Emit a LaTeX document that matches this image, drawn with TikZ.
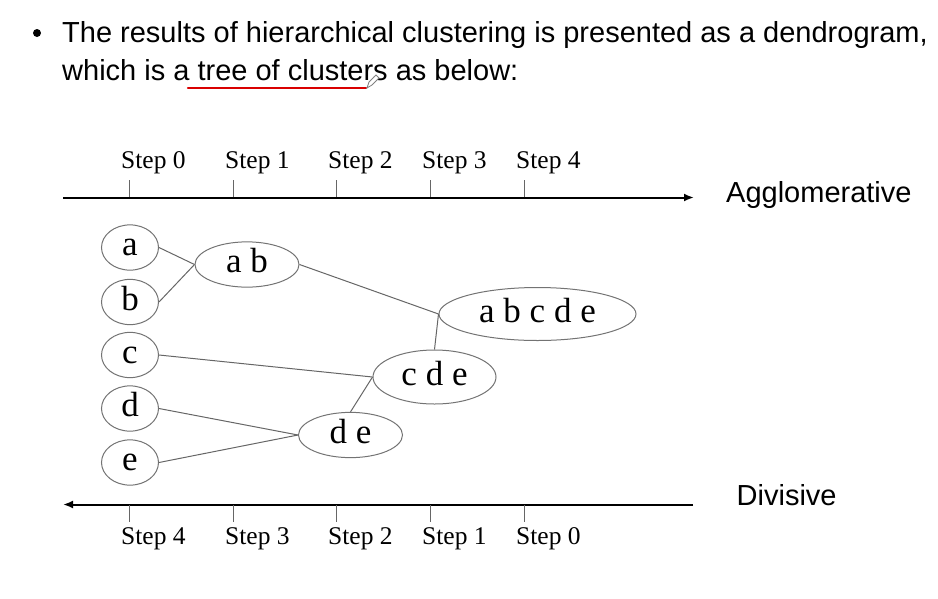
\documentclass[tikz,border=0pt]{standalone}
\usepackage{fontspec}
\setmainfont{Liberation Serif}
\newfontfamily\slidefont{Liberation Sans}
\usetikzlibrary{shapes.geometric, arrows.meta}

\begin{document}
\begin{tikzpicture}[
    x = 1pt, y = -1pt,
    leaf/.style = {
      ellipse,
      draw = gray!90!black, line width = 1pt,
      minimum width = 57pt, minimum height = 45pt,
      inner sep = 0,
      text height = 24pt, text depth = 8pt,
      font = \fontsize{35}{35}\selectfont,
    },
    cluster/.style = {
      leaf,
      minimum width = #1,
    },
    link/.style = {
      draw = gray!80!black,
      line width = 1pt,
    },
    axis/.style = {
      draw = black,
      line width = 2pt,
      -{Latex[length = 10pt, width = 8pt]},
    },
    steptick/.style = {
      draw = gray!80!black,
      line width = 1pt,
    },
    steplabel/.style = {
      anchor = base west,
      inner sep = 0,
      font = \fontsize{25.5}{25.5}\selectfont,
    },
    slidetext/.style = {
      anchor = base west,
      inner sep = 0,
      font = \slidefont\fontsize{29}{29}\selectfont,
    },
  ]
  \useasboundingbox (0,0) rectangle (938,598);

  % slide text
  \node[circle, fill = black, inner sep = 0, minimum size = 8pt] (bullet) at (37,33) {};
  \node[slidetext] (lineA) at (62,42) {The results of hierarchical clustering is presented as a dendrogram,};
  \node[slidetext] (lineB) at (62,80) {which is a tree of clusters as below:};
  \coordinate (markA) at (188,88);
  \coordinate (markB) at (366,88);
  \draw[red!85!black, line width = 2.5pt, line cap = round] (markA) -- (markB);
  \draw[gray, line width = 0.8pt, fill = white]
    (367,88) -- (369,82) -- (376,75) -- (379,78) -- (372,85) -- cycle;

  % step axes
  \coordinate (aggStart) at (63,197.5);
  \coordinate (aggEnd) at (694,197.5);
  \coordinate (divStart) at (693,504.5);
  \coordinate (divEnd) at (63,504.5);
  \draw[axis] (aggStart) -- (aggEnd);
  \draw[axis] (divStart) -- (divEnd);
  \foreach \x/\s in {129/0, 233/1, 336/2, 430/3, 524/4} {
    \draw[steptick] (\x,180) -- (\x,197);
    \node[steplabel] (top\s) at (\x-8,168.5) {Step \s};
  }
  \foreach \x/\s in {129/4, 233/3, 336/2, 430/1, 524/0} {
    \draw[steptick] (\x,505) -- (\x,521.5);
    \node[steplabel] (bot\s) at (\x-8,544) {Step \s};
  }
  \node[slidetext] (agg) at (726,202) {Agglomerative};
  \node[slidetext] (div) at (736.5,505) {Divisive};

  % tree of clusters
  \node[leaf] (a) at (130,247.5) {a};
  \node[leaf] (b) at (130,302) {b};
  \node[leaf] (c) at (130,355) {c};
  \node[leaf] (d) at (130,408.5) {d};
  \node[leaf] (e) at (130,462.5) {e};
  \node[cluster = 104pt] (ab) at (247,264.5) {a b};
  \node[cluster = 104pt] (de) at (350.5,435) {d e};
  \node[cluster = 123pt, minimum height = 54pt] (cde) at (434.5,377) {c d e};
  \node[cluster = 197pt, minimum height = 53pt] (abcde) at (537.5,314) {a b c d e\hspace{22pt}};

  \draw[link] (a.east) -- (ab.west);
  \draw[link] (b.east) -- (ab.west);
  \draw[link] (ab.east) -- (abcde.west);
  \draw[link] (c.east) -- (cde.west);
  \draw[link] (d.east) -- (de.west);
  \draw[link] (e.east) -- (de.west);
  \draw[link] (de.north) -- (cde.west);
  \draw[link] (cde.north) -- (abcde.west);
\end{tikzpicture}
\end{document}
